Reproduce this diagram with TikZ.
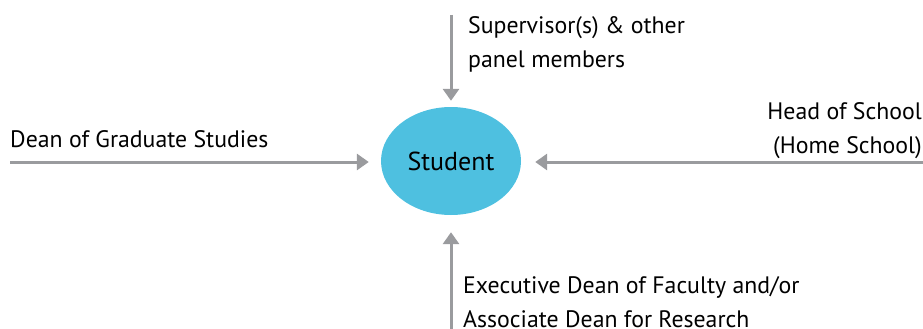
\documentclass[tikz,border=0pt]{standalone}
\usepackage{fontspec}
\setmainfont{PT Sans}
\usetikzlibrary{shapes.geometric,arrows.meta,positioning}

\definecolor{linkgray}{RGB}{154,155,158}
\definecolor{studentblue}{RGB}{78,192,224}

\tikzset{
  role/.style={inner sep=0pt, font=\fontsize{23.8}{34}\selectfont},
  link/.style={draw=linkgray, line width=3pt, -{Triangle[width=16pt,length=12pt]}},
}

\begin{document}
\begin{tikzpicture}[x=1pt,y=-1pt]
\useasboundingbox (0,0) rectangle (923,329);

\node (student) at (451,161) [ellipse, fill=studentblue, minimum width=140pt, minimum height=108pt,
  inner sep=0pt, font=\fontsize{26}{30}\selectfont] {Student};

% who the student reports to (base anchor sits on the last line)
\node (sup) at (468,67) [role, anchor=base west, align=left] {Supervisor(s) \& other\\panel members};
\node (dean) at (10,147) [role, anchor=base west] {Dean of Graduate Studies};
\node (head) at (922,153) [role, anchor=base east, align=right] {Head of School\\(Home School)};
\node (exec) at (463,327) [role, anchor=base west, align=left] {Executive Dean of Faculty and/or\\Associate Dean for Research};

\coordinate (c0) at (451,15);
\coordinate (c1) at (10,162);
\coordinate (c2) at (923,162);
\coordinate (c3) at (451,332);

\draw[link, shorten >=6pt] (c0) -- (c0 |- student.north);
\draw[link, shorten >=12pt] (c1) -- (c1 -| student.west);
\draw[link, shorten >=14pt] (c2) -- (c2 -| student.east);
\draw[link, shorten >=17pt] (c3) -- (c3 |- student.south);
\end{tikzpicture}
\end{document}
